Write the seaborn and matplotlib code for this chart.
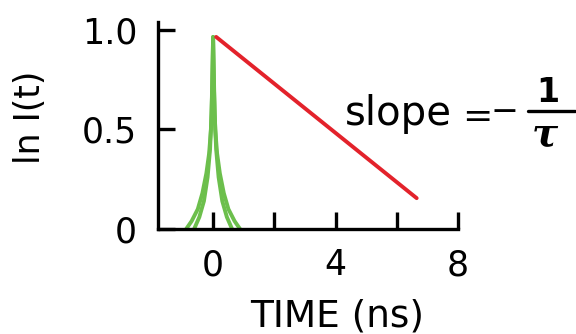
import matplotlib
matplotlib.use("Agg")
import matplotlib.pyplot as plt
import seaborn as sns
import pandas as pd

# ---- data ----
pulse_outer_t = [-0.88, -0.7, -0.5, -0.35, -0.22, -0.13, -0.07, -0.03, 0.0,
                 0.03, 0.07, 0.13, 0.22, 0.35, 0.5, 0.7, 0.88]
pulse_outer_y = [0.0, 0.04, 0.10, 0.18, 0.28, 0.38, 0.50, 0.70, 0.965,
                 0.70, 0.50, 0.38, 0.28, 0.18, 0.10, 0.04, 0.0]
pulse_inner_t = [-0.62, -0.45, -0.3, -0.18, -0.1, -0.05, 0.0,
                 0.05, 0.1, 0.18, 0.3, 0.45, 0.62]
pulse_inner_y = [0.0, 0.06, 0.14, 0.26, 0.40, 0.58, 0.965,
                 0.58, 0.40, 0.26, 0.14, 0.06, 0.0]
decay_t = [0.1, 6.65]
decay_y = [0.965, 0.155]

x_ticks = [0, 2, 4, 6, 8]
x_ticklabels = ["0", "", "4", "", "8"]
y_ticks = [0, 0.5, 1.0]
y_ticklabels = ["0", "0.5", "1.0"]

GREEN = "#6cbf4c"
RED = "#e3222b"

sns.set_style("ticks")
plt.rcParams["font.family"] = ["DejaVu Sans"]
plt.rcParams["text.color"] = "black"
plt.rcParams["axes.labelcolor"] = "black"

W, H = 576, 334
fig = plt.figure(figsize=(W / 100, H / 100), dpi=100)
ax = fig.add_axes([158 / W, 1 - 229 / H, 300 / W, 207 / H])

df_o = pd.DataFrame({"t": pulse_outer_t, "y": pulse_outer_y})
df_i = pd.DataFrame({"t": pulse_inner_t, "y": pulse_inner_y})
df_d = pd.DataFrame({"t": decay_t, "y": decay_y})

sns.lineplot(data=df_o, x="t", y="y", sort=False, color=GREEN, lw=2.8, ax=ax)
sns.lineplot(data=df_i, x="t", y="y", sort=False, color=GREEN, lw=2.8, ax=ax)
sns.lineplot(data=df_d, x="t", y="y", sort=False, color=RED, lw=2.8, ax=ax)

ax.set_xlim(-1.8, 8)
ax.set_ylim(0, 1.04)
sns.despine(ax=ax)
for s in ["left", "bottom"]:
    ax.spines[s].set_linewidth(2.4)
    ax.spines[s].set_color("black")

ax.set_xticks(x_ticks)
ax.set_xticklabels(x_ticklabels)
ax.set_yticks(y_ticks)
ax.set_yticklabels(y_ticklabels)
ax.tick_params(axis="both", direction="in", length=12, width=2.4,
               labelsize=25, colors="black")
ax.tick_params(axis="x", pad=14)
ax.tick_params(axis="y", pad=15)

ax.set_xlabel("TIME (ns)", fontsize=27)
ax.xaxis.set_label_coords((337 - 158) / 300, (229 - 316) / 207)
ax.xaxis.label.set_va("center")
ax.set_ylabel("ln I(t)", fontsize=25)
ax.yaxis.set_label_coords((30 - 158) / 300, (229 - 117) / 207)
ax.yaxis.label.set_va("center")


def ft(x, y, s, **kw):
    fig.text(x / W, 1 - y / H, s, **kw)


ft(345, 125, "slope", fontsize=29, ha="left", va="baseline")
ft(477, 117, "=", fontsize=26, ha="center", va="center")
ft(504, 112, "\u2212", fontsize=24, ha="center", va="center")
ft(548, 102, "1", fontsize=24, ha="center", va="baseline", weight="bold")
ft(545, 135, "\u03c4", fontsize=28, ha="center", va="center",
   family="DejaVu Serif", style="italic", weight="bold")
fig.add_artist(plt.Line2D([528 / W, 575 / W], [1 - 111 / H, 1 - 111 / H],
                          transform=fig.transFigure, color="black", lw=2.4))

fig.savefig("out.png", dpi=100)
